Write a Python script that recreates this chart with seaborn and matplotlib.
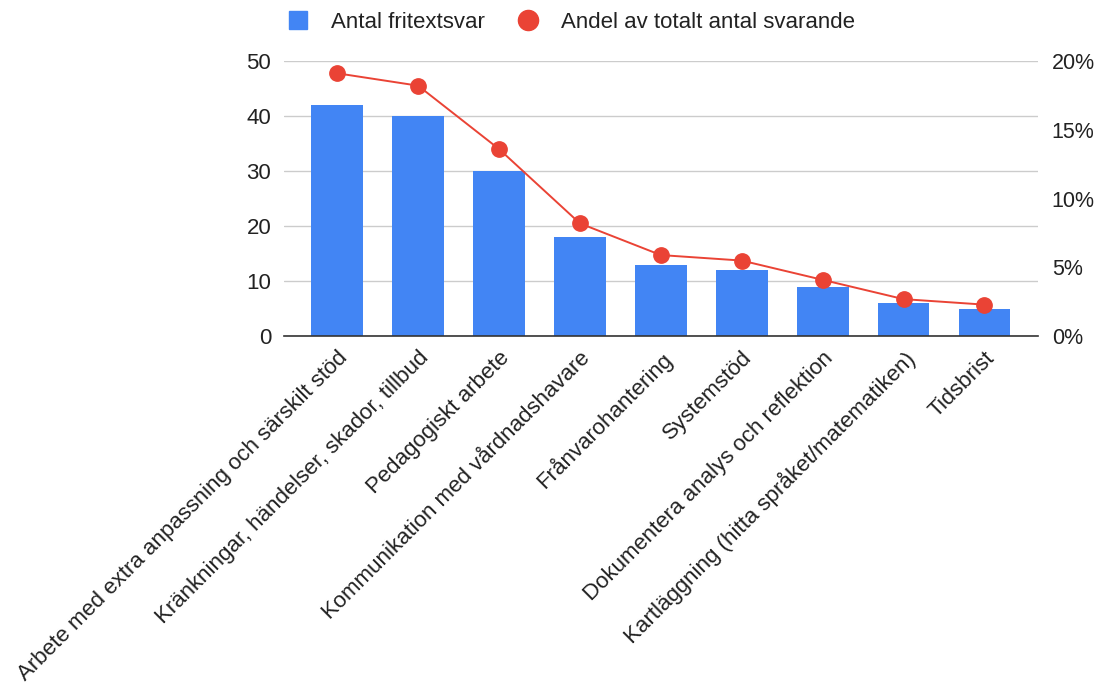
import matplotlib
matplotlib.use("Agg")
import matplotlib.pyplot as plt
from matplotlib.lines import Line2D
from matplotlib.ticker import FuncFormatter, MultipleLocator
import seaborn as sns
import numpy as np

categories = [
    "Arbete med extra anpassning och särskilt stöd",
    "Kränkningar, händelser, skador, tillbud",
    "Pedagogiskt arbete",
    "Kommunikation med vårdnadshavare",
    "Frånvarohantering",
    "Systemstöd",
    "Dokumentera analys och reflektion",
    "Kartläggning (hitta språket/matematiken)",
    "Tidsbrist",
]
counts = [42, 40, 30, 18, 13, 12, 9, 6, 5]
shares = [19.1, 18.2, 13.6, 8.2, 5.9, 5.5, 4.1, 2.7, 2.3]  # percent

series_names = ["Antal fritextsvar", "Andel av totalt antal svarande"]
bar_color = "#4285F4"
line_color = "#EA4335"
text_color = "#222222"

sns.set_theme(style="white")
plt.rcParams["font.family"] = ["Liberation Sans", "DejaVu Sans"]

fig = plt.figure(figsize=(11, 6.92), dpi=100)
ax = fig.add_axes([0.258, 0.514, 0.6855, 0.398])

sns.barplot(x=categories, y=counts, color=bar_color, width=0.64, ax=ax,
            saturation=1, edgecolor="none")
ax.set_ylim(0, 50)
ax.yaxis.set_major_locator(MultipleLocator(10))
ax.grid(axis="y", color="#cccccc", linewidth=1)
ax.set_axisbelow(True)
for s in ["top", "right", "left"]:
    ax.spines[s].set_visible(False)
ax.spines["bottom"].set_color("#333333")
ax.spines["bottom"].set_linewidth(1.2)
ax.tick_params(axis="both", length=0, labelsize=16, labelcolor=text_color)
ax.tick_params(axis="y", pad=9)
ax.set_xticks(range(len(categories)))
ax.set_xticklabels(categories, rotation=45, ha="right", va="top",
                   rotation_mode="anchor", fontsize=16, color=text_color)
ax.tick_params(axis="x", pad=8)
ax.set_xlabel("")
ax.set_ylabel("")

ax2 = ax.twinx()
sns.pointplot(x=categories, y=shares, color=line_color, ax=ax2,
              markers="o", linewidth=1.4, markersize=11)
ax2.set_ylim(0, 20)
ax2.yaxis.set_major_locator(MultipleLocator(5))
ax2.yaxis.set_major_formatter(FuncFormatter(lambda v, p: f"{v:.0f}%"))
for s in ["top", "right", "left", "bottom"]:
    ax2.spines[s].set_visible(False)
ax2.tick_params(axis="y", length=0, labelsize=15.5, labelcolor=text_color, pad=10)
ax2.grid(False)
ax2.set_ylabel("")
ax2.set_xlabel("")
ax.set_xlim(-0.66, len(categories) - 1 + 0.66)
ax2.set_xlim(-0.66, len(categories) - 1 + 0.66)

handles = [
    Line2D([0], [0], marker="s", linestyle="none", markersize=12.5,
           markerfacecolor=bar_color, markeredgecolor=bar_color),
    Line2D([0], [0], marker="o", linestyle="none", markersize=14.5,
           markerfacecolor=line_color, markeredgecolor=line_color),
]
fig.legend(handles, series_names, loc="center", bbox_to_anchor=(0.514, 0.968),
           ncol=2, frameon=False, fontsize=16, handletextpad=0.5,
           columnspacing=0.9, labelcolor=text_color)

fig.savefig("out.png", dpi=100)
